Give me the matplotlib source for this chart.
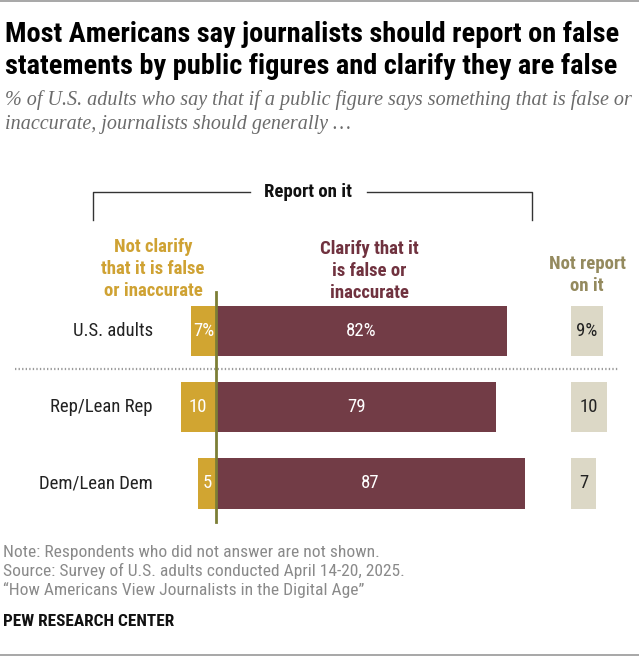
import matplotlib
matplotlib.use('Agg')
import matplotlib.pyplot as plt
from matplotlib import font_manager as fm
from matplotlib.lines import Line2D
from matplotlib.patches import Rectangle

W, H = 639, 656

groups = ['U.S. adults', 'Rep/Lean Rep', 'Dem/Lean Dem']
not_clarify = [7, 10, 5]
clarify = [82, 79, 87]
not_report = [9, 10, 7]
nc_labels = ['7%', '10', '5']
cl_labels = ['82%', '79', '87']
nr_labels = ['9%', '10', '7']

yellow = '#D1A531'
maroon = '#723C46'
beige = '#DCD8C6'
olive_line = '#7C7E36'

# look for a narrow sans (the original uses a condensed Franklin Gothic)
fonts = fm.fontManager.ttflist
names = {f.name for f in fonts}
narrow_fam, narrow_stretch = 'DejaVu Sans', 'normal'
for nm in ['Liberation Sans Narrow', 'Roboto Condensed', 'Arial Narrow', 'DejaVu Sans Condensed']:
    if nm in names:
        narrow_fam = nm
        break
else:
    for nm in ['Roboto', 'Noto Sans', 'Open Sans', 'DejaVu Sans']:
        if any(f.name == nm and f.stretch in ('condensed', 'semi-condensed') for f in fonts):
            narrow_fam, narrow_stretch = nm, 'condensed'
            break
narrow = dict(family=[narrow_fam, 'DejaVu Sans'], stretch=narrow_stretch)
sans = dict(family=['Liberation Sans', 'DejaVu Sans'])
serif = dict(family=['Liberation Serif', 'DejaVu Serif'])

def fx(px):
    return px / W

def fy(py):
    return 1 - py / H

fig = plt.figure(figsize=(W / 100, H / 100), dpi=100)
renderer = fig.canvas.get_renderer()

def fit(s, target, **kw):
    # font size that makes s about target pixels wide
    t = fig.text(0, 0, s, fontsize=10, **kw)
    w = t.get_window_extent(renderer).width
    t.remove()
    return 10 * target / w

ax = fig.add_axes([0, 0, 1, 1])
ax.axis('off')
# zero at pixel 216, 3.55 px per percent; rows 76.25 px apart starting at 331
ax.set_xlim(-216 / 3.55, (W - 216) / 3.55)
ax.set_ylim((H - 331) / 76.25, -331 / 76.25)

ys = list(range(len(groups)))
bh = 0.66
ax.barh(ys, not_clarify, left=[-v for v in not_clarify], height=bh, color=yellow)
ax.barh(ys, clarify, left=0, height=bh, color=maroon)
nr_off = 100
ax.barh(ys, not_report, left=nr_off, height=bh, color=beige)

fs_val = min(fit('82%', 34, **narrow), 13.5)
fs_row = min(fit('Rep/Lean Rep', 111, **narrow), 13.5)
for i in ys:
    ax.text(-not_clarify[i] / 2, i, nc_labels[i], ha='center', va='center',
            color='white', fontsize=fs_val, **narrow)
    ax.text(clarify[i] / 2, i, cl_labels[i], ha='center', va='center',
            color='white', fontsize=fs_val, **narrow)
    ax.text(nr_off + not_report[i] / 2, i, nr_labels[i], ha='center', va='center',
            color='#222222', fontsize=fs_val, **narrow)
    fig.text(fx(153), fy(331 + 76.25 * i), groups[i], ha='right', va='center',
             color='#222222', fontsize=fs_row, **narrow)

# zero line
ax.plot([0, 0], [-0.51, 2.51], color=olive_line, lw=2, zorder=5)
# dotted separator
ax.plot([-56.6, 113.5], [0.5, 0.5], color='#9a9a9a', lw=1.6,
        linestyle=(0, (0.6, 1.0)))

# bracket
fig.add_artist(Line2D([fx(93), fx(93), fx(250)], [fy(220), fy(192), fy(192)],
                      color='#333333', lw=1))
fig.add_artist(Line2D([fx(367), fx(532), fx(532)], [fy(192), fy(192), fy(220)],
                      color='#333333', lw=1))
fs_rep = min(fit('Report on it', 95, fontweight='bold', **narrow), 13.5)
fig.text(fx(308), fy(192), 'Report on it', ha='center', va='center',
         fontsize=fs_rep, fontweight='bold', color='#111111', **narrow)

# column headers
fs_head = min(fit('that it is false', 109, fontweight='bold', **narrow), 13.5)
fig.text(fx(153), fy(269), 'Not clarify\nthat it is false\nor inaccurate', ha='center',
         va='center', fontsize=fs_head, fontweight='bold', color='#CFA233',
         linespacing=1.25, **narrow)
fig.text(fx(369), fy(271), 'Clarify that it\nis false or\ninaccurate', ha='center',
         va='center', fontsize=fs_head, fontweight='bold', color='#70323F',
         linespacing=1.25, **narrow)
fig.text(fx(587), fy(275), 'Not report\non it', ha='center', va='center',
         fontsize=fs_head, fontweight='bold', color='#948A5E',
         linespacing=1.25, **narrow)

# title and subtitle
t1 = 'Most Americans say journalists should report on false'
t2 = 'statements by public figures and clarify they are false'
fs_title = fit(t1, 613, fontweight='bold', **narrow)
fig.text(fx(5), fy(41.7), t1, ha='left', va='baseline', fontsize=fs_title,
         fontweight='bold', **narrow)
fig.text(fx(5), fy(73.5), t2, ha='left', va='baseline', fontsize=fs_title,
         fontweight='bold', **narrow)
s1 = '% of U.S. adults who say that if a public figure says something that is false or'
s2 = 'inaccurate, journalists should generally \u2026'
fs_sub = fit(s1, 627, style='italic', **serif)
fig.text(fx(5), fy(105), s1, ha='left', va='baseline', fontsize=fs_sub,
         style='italic', color='#6b6b6b', **serif)
fig.text(fx(5), fy(129), s2, ha='left', va='baseline', fontsize=fs_sub,
         style='italic', color='#6b6b6b', **serif)

# footer
foot = ['Note: Respondents who did not answer are not shown.',
        'Source: Survey of U.S. adults conducted April 14-20, 2025.',
        '\u201cHow Americans View Journalists in the Digital Age\u201d']
fs_foot = fit(foot[0], 372, **narrow)
for k, line in enumerate(foot):
    fig.text(fx(3), fy(552 + 19 * k), line, ha='left', va='center', fontsize=fs_foot,
             color='#8a8a8a', **narrow)
fs_pew = fit('PEW RESEARCH CENTER', 170, fontweight='bold', **narrow)
fig.text(fx(3), fy(621), 'PEW RESEARCH CENTER', ha='left', va='center', fontsize=fs_pew,
         fontweight='bold', color='#111111', **narrow)

# gray rules top and bottom
fig.add_artist(Rectangle((0, fy(2)), 1, 2 / H, transform=fig.transFigure,
                         color='#a9a9a9', lw=0))
fig.add_artist(Rectangle((0, 0), 1, 2.5 / H, transform=fig.transFigure,
                         color='#a9a9a9', lw=0))

fig.savefig('out.png', dpi=100)
